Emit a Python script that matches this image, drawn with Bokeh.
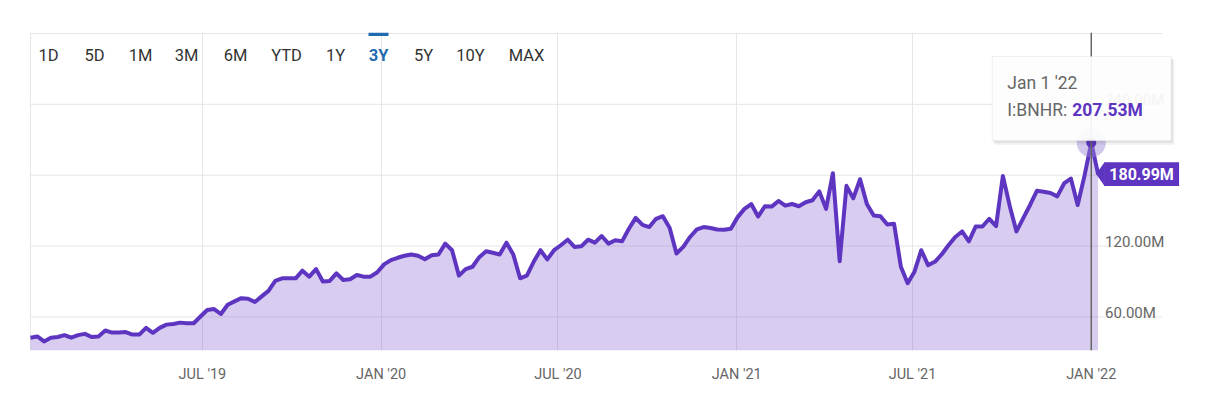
import pandas as pd
from bokeh.plotting import figure
from bokeh.models import FixedTicker, Label, BoxAnnotation, Span, PolyAnnotation, Range1d
from bokeh.core.properties import value
from bokeh.embed import file_html
from bokeh.resources import INLINE

# ---------------- data ----------------
series_name = "I:BNHR"
first_week = "2019-01-05"          # weekly observations (Saturdays)
values_m = [
    42.4, 43.5, 39.3, 42.4, 43.0, 44.6, 42.4, 44.6, 45.7, 43.0,
    43.5, 48.5, 46.8, 46.8, 47.2, 45.1, 45.1, 50.8, 46.6, 50.8,
    53.5, 54.1, 55.2, 54.7, 54.7,
    60.4, 65.9, 66.7, 62.5, 70.3, 73.2, 75.9, 75.4, 72.6, 77.4,
    82.1, 90.5, 92.7, 92.7, 92.7, 99.2, 94.1, 100.5, 90.0, 90.5,
    96.9, 91.3, 91.9, 95.5, 94.1, 94.1, 97.8,
    104.5, 108.1, 110.1, 111.8, 112.9, 111.8, 108.9, 112.3, 112.9, 122.1,
    116.5, 95.0, 100.5, 102.5, 110.6, 115.6, 114.3, 112.9, 122.9, 112.9,
    92.7, 95.0, 106.7, 116.5, 108.7, 116.5, 120.7,
    125.4, 119.3, 119.8, 125.4, 122.9, 128.5, 122.1, 124.9, 124.0, 134.7,
    143.9, 138.0, 136.1, 143.1, 145.3, 135.3, 113.7, 119.3, 127.7, 134.1,
    136.1, 135.3, 134.1, 133.8, 134.7, 144.5, 151.5,
    155.6, 145.0, 153.7, 153.4, 158.2, 154.2, 155.6, 153.7, 157.1, 158.8,
    166.3, 151.5, 181.7, 107.2, 171.0, 160.4, 176.6, 155.6, 145.8, 145.3,
    138.3, 138.9, 102.5, 88.5, 98.3, 116.5,
    103.9, 106.7, 112.9, 120.7, 127.7, 132.4, 124.0, 136.6, 136.6, 143.1,
    136.9, 179.4, 154.2, 132.4, 143.6, 154.8, 166.8, 166.0, 164.9, 162.1,
    173.0, 177.2, 154.8, 179.4, 207.53, 180.99,
]
x_tick_dates = ["2019-07-01", "2020-01-01", "2020-07-01", "2021-01-01", "2021-07-01", "2022-01-01"]
x_tick_labels = ["JUL '19", "JAN '20", "JUL '20", "JAN '21", "JUL '21", "JAN '22"]
y_grid_m = [60, 120, 180, 240, 300]
y_label_m = [60, 120, 180, 240]
y_tick_labels = ["60.00M", "120.00M", "180.00M", "240.00M"]
range_buttons = ["1D", "5D", "1M", "3M", "6M", "YTD", "1Y", "3Y", "5Y", "10Y", "MAX"]
active_button = "3Y"
hover_date = "2022-01-01"
hover_date_text = "Jan 1 '22"

# ---------------- derived ----------------
def ms(d):
    return pd.Timestamp(d).value / 1e6

dates = pd.date_range(first_week, periods=len(values_m), freq="7D")
xs = [ms(d) for d in dates]
ys = [v * 1e6 for v in values_m]

# ---------------- geometry (canvas px) ----------------
FRAME_LEFT, FRAME_TOP, FRAME_W, FRAME_H = 29, 32, 1156, 321
W = FRAME_LEFT + FRAME_W + 16
H = FRAME_TOP + FRAME_H + 32
x0, x1 = ms("2019-01-04"), ms("2022-04-08")
y0, y1 = 31.6e6, 300.8e6
grid_end = ms("2022-03-15")

def X(px):
    return x0 + (px - FRAME_LEFT) * (x1 - x0) / FRAME_W

def Y(py):
    return y1 - (py - FRAME_TOP) * (y1 - y0) / FRAME_H

def DX(px):
    return px * (x1 - x0) / FRAME_W

def DY(py):
    return py * (y1 - y0) / FRAME_H

PURPLE = "#5e35c1"
GRID = "#e6e6e6"
FONT = "Roboto"

p = figure(width=W, height=H, output_backend="svg", toolbar_location=None,
           x_range=Range1d(x0, x1), y_range=Range1d(y0, y1),
           y_axis_location=None, min_border_left=FRAME_LEFT,
           min_border_top=FRAME_TOP, min_border_right=W - FRAME_LEFT - FRAME_W,
           min_border_bottom=H - FRAME_TOP - FRAME_H)
p.outline_line_color = None
p.background_fill_color = "white"
p.border_fill_color = "white"

tick_ms = [ms(d) for d in x_tick_dates]
p.xaxis.ticker = FixedTicker(ticks=tick_ms)
p.xaxis.major_label_overrides = {t: l for t, l in zip(tick_ms, x_tick_labels)}
p.xaxis.axis_line_color = None
p.xaxis.major_tick_line_color = None
p.xaxis.minor_tick_line_color = None
p.xaxis.major_label_text_font = FONT
p.xaxis.major_label_text_font_size = "14.5px"
p.xaxis.major_label_text_color = "#666666"
p.xaxis.major_label_standoff = 9

p.xgrid.ticker = FixedTicker(ticks=[X(29.5)] + tick_ms)
p.xgrid.grid_line_color = GRID
p.ygrid.visible = False

# horizontal grid lines (stop before the right edge)
gy = [v * 1e6 for v in y_grid_m]
p.segment(x0=[x0] * len(gy), y0=gy, x1=[grid_end] * len(gy), y1=gy, line_color=GRID, line_width=1)

# area + line
p.varea(x=xs, y1=y0, y2=ys, fill_color="#7449c9", fill_alpha=0.28)
p.line(xs, ys, line_color=PURPLE, line_width=4, line_join="round")

# y tick labels inside the plot, right side
p.text(x=[xs[-1]] * len(y_label_m), y=[v * 1e6 for v in y_label_m], text=y_tick_labels,
       x_offset=7, y_offset=-4, text_align="left", text_baseline="alphabetic",
       text_font=value(FONT), text_font_size="15px", text_color="#666666")

# range buttons
btn_cx = [48, 94, 140, 186, 235, 286, 335, 378, 423, 470, 526]
for name, cx in zip(range_buttons, btn_cx):
    active = name == active_button
    p.add_layout(Label(x=X(cx), y=Y(55), text=name, text_align="center", text_baseline="middle",
                       text_font=FONT, text_font_size="16.5px",
                       text_font_style="bold" if active else "normal",
                       text_color="#1f6bb0" if active else "#333333"))
    if active:
        p.add_layout(BoxAnnotation(left=X(cx - 10), right=X(cx + 10), top=Y(32), bottom=Y(35.5),
                                   fill_color="#1f6bb0", fill_alpha=1, line_color=None))

# crosshair
hi = xs.index(ms(hover_date))
p.add_layout(Span(location=xs[hi], dimension="height", line_color="#666666", line_width=1.5))

# hover marker
p.scatter([xs[hi]], [ys[hi]], size=29, fill_color="#9b86d6", fill_alpha=0.45, line_color=None)
p.scatter([xs[hi]], [ys[hi]], size=10, fill_color=PURPLE, line_color=None)

# tooltip
tl, tr = xs[hi] - DX(99), xs[hi] + DX(80)
tt, tb = ys[hi] + DY(87), ys[hi] + DY(2)
p.add_layout(BoxAnnotation(left=tl + DX(2), right=tr + DX(3), top=tt - DY(3), bottom=tb - DY(4),
                           fill_color="black", fill_alpha=0.06, line_color=None))
p.add_layout(BoxAnnotation(left=tl + DX(1), right=tr + DX(1.5), top=tt - DY(1.5), bottom=tb - DY(2),
                           fill_color="black", fill_alpha=0.06, line_color=None))
p.add_layout(BoxAnnotation(left=tl, right=tr, top=tt, bottom=tb, fill_color="white", fill_alpha=0.93,
                           line_color="#cccccc", line_width=1))
p.add_layout(Label(x=tl + DX(15), y=tt - DY(27), text=hover_date_text, text_align="left",
                   text_baseline="middle", text_font=FONT, text_font_size="17.5px", text_color="#666666"))
p.add_layout(Label(x=tl + DX(15), y=tt - DY(54), text=series_name + ":", text_align="left",
                   text_baseline="middle", text_font=FONT, text_font_size="17.5px", text_color="#666666"))
p.add_layout(Label(x=tl + DX(80), y=tt - DY(54), text=f"{values_m[hi]:.2f}M", text_align="left",
                   text_baseline="middle", text_font=FONT, text_font_size="17.5px",
                   text_font_style="bold", text_color=PURPLE))

# last value tag
lx, ly = xs[-1], ys[-1]
p.add_layout(PolyAnnotation(xs=[lx - DX(2), lx + DX(6.5), lx + DX(6.5)],
                            ys=[ly, ly + DY(12), ly - DY(12)],
                            fill_color=PURPLE, fill_alpha=1, line_color=None))
p.add_layout(BoxAnnotation(left=lx + DX(6), right=lx + DX(81), top=ly + DY(12), bottom=ly - DY(12),
                           fill_color=PURPLE, fill_alpha=1, line_color=None))
p.add_layout(Label(x=lx + DX(43.5), y=ly, text=f"{values_m[-1]:.2f}M", text_align="center",
                   text_baseline="middle", text_font=FONT, text_font_size="16px",
                   text_font_style="bold", text_color="white"))

open("out.html", "w").write(file_html(p, INLINE))
